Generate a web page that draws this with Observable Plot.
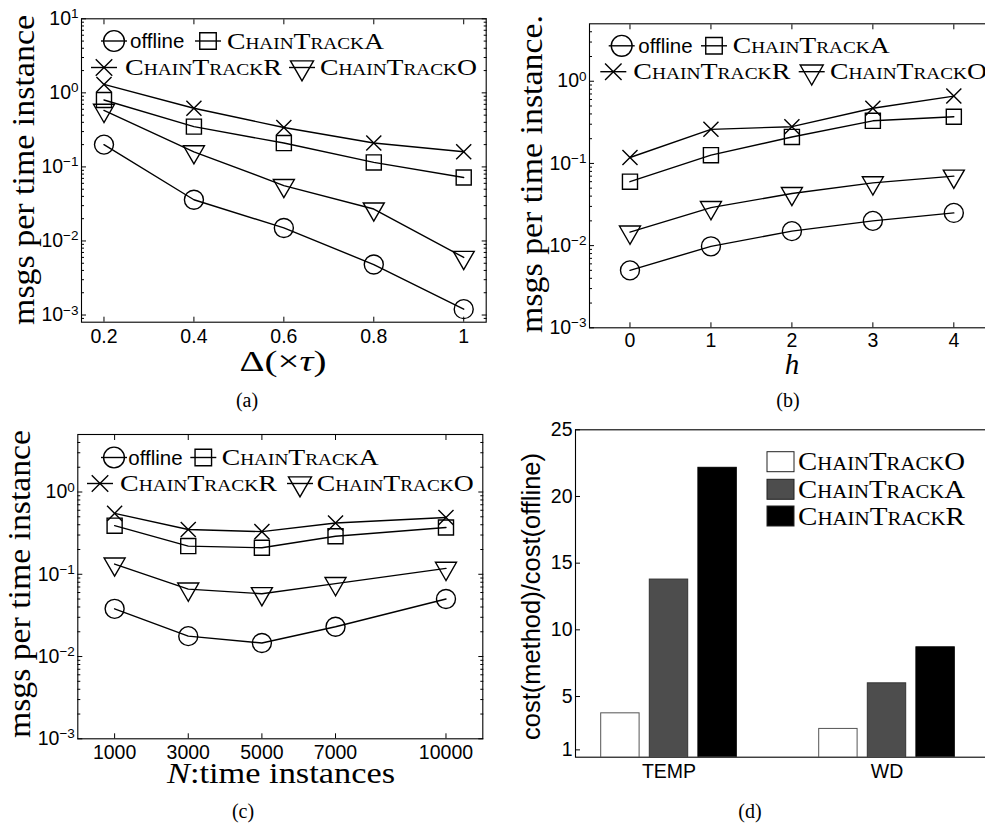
<!DOCTYPE html>
<html><head><meta charset="utf-8">
<script src="https://cdn.jsdelivr.net/npm/d3@7"></script>
<script src="https://cdn.jsdelivr.net/npm/@observablehq/plot@0.6"></script>
<style>
body{margin:0;background:#fff}
#root{position:relative;width:985px;height:828px;overflow:hidden;background:#fff}
.panel{position:absolute}
#root svg{max-width:none !important}
</style></head><body><div id="root"></div>
<script>
// ---------- data ----------
const methods = ["offline", "ChainTrackA", "ChainTrackR", "ChainTrackO"];
// (a) x: Delta (x tau)
const deltaX = [0.2, 0.4, 0.6, 0.8, 1];
const a_offline = [0.2, 0.036, 0.015, 0.0048, 0.0012];
const a_A = [0.8, 0.35, 0.21, 0.115, 0.072];
const a_R = [1.3, 0.62, 0.34, 0.21, 0.16];
const a_O = [0.58, 0.16, 0.056, 0.027, 0.006];
// (b) x: h
const hX = [0, 1, 2, 3, 4];
const b_offline = [0.005, 0.0098, 0.015, 0.02, 0.025];
const b_A = [0.06, 0.126, 0.21, 0.33, 0.37];
const b_R = [0.118, 0.26, 0.28, 0.47, 0.66];
const b_O = [0.0146, 0.029, 0.043, 0.058, 0.07];
// (c) x: N time instances
const nX = [1000, 3000, 5000, 7000, 10000];
const c_offline = [0.038, 0.0177, 0.0146, 0.023, 0.05];
const c_A = [0.39, 0.22, 0.21, 0.29, 0.37];
const c_R = [0.55, 0.35, 0.33, 0.42, 0.49];
const c_O = [0.133, 0.066, 0.058, 0.077, 0.118];
// (d) bars
const datasets = ["TEMP", "WD"];
const barMethods = ["ChainTrackO", "ChainTrackA", "ChainTrackR"];
const d_TEMP = [3.74, 13.77, 22.15];
const d_WD = [2.57, 5.99, 8.69];
// ticks
const logTicks = [1e-3, 1e-2, 1e-1, 1, 10];
const barTicks = [1, 5, 10, 15, 20, 25];

// ---------- styles ----------
const SANS = "'Liberation Sans', Arial, Helvetica, sans-serif";
const SERIF = "'Liberation Serif', 'DejaVu Serif', serif";
const TICK_FS = 19.5;
const markerSpec = {
  offline: {symbol: "circle", r: 9.5, d3s: d3.symbolCircle},
  ChainTrackA: {symbol: "square", r: 8.5, d3s: d3.symbolSquare},
  ChainTrackR: {symbol: "times", r: 6.9, d3s: d3.symbolTimes},
  ChainTrackO: {symbol: "triangle", r: 7.8, rotate: 180, d3s: d3.symbolTriangle}
};
const barStyle = {
  ChainTrackO: {fill: "#ffffff", stroke: "#555", dx: -48.6},
  ChainTrackA: {fill: "#4d4d4d", stroke: "#333", dx: 0},
  ChainTrackR: {fill: "#000000", stroke: "#000", dx: 48.6}
};

const root = document.getElementById("root");
function place(el, left, top) {
  const d = document.createElement("div");
  d.className = "panel";
  d.style.left = left + "px"; d.style.top = top + "px";
  d.appendChild(el); root.appendChild(d);
}
function superscripts(svg) {
  svg.querySelectorAll("text").forEach(t => {
    const s = t.textContent;
    const m = /^10\^(.+)$/.exec(s);
    if (!m) return;
    t.textContent = "10";
    const ts = document.createElementNS("http://www.w3.org/2000/svg", "tspan");
    ts.setAttribute("dy", "-0.5em");
    ts.setAttribute("font-size", "13.5px");
    ts.textContent = m[1].replace("-", "\u2212");
    t.appendChild(ts);
  });
}

function linePanel(cfg) {
  const rows = cfg.series.flatMap(s => cfg.xs.map((x, i) => ({method: s.name, x, y: s.values[i]})));
  const [y0, y1] = cfg.yDomain;
  const majors = logTicks.filter(t => t >= y0 * 0.999 && t <= y1 * 1.001);
  const minors = d3.range(-4, 1).flatMap(e => d3.range(2, 10).map(k => k * Math.pow(10, e))).filter(t => t > y0 && t < y1);
  const blank = {label: null, tickFormat: () => ""};
  const svg = Plot.plot({
    width: cfg.width, height: cfg.height,
    marginTop: cfg.m[0], marginRight: cfg.m[1], marginBottom: cfg.m[2], marginLeft: cfg.m[3],
    style: {fontFamily: SANS, fontSize: TICK_FS + "px", background: "transparent", color: "black", overflow: "visible"},
    x: {domain: cfg.xDomain},
    y: {type: "log", domain: cfg.yDomain},
    marks: [
      Plot.axisX(cfg.xs, {anchor: "bottom", tickSize: 0, tickPadding: cfg.xPad, tickFormat: d => String(d), label: null, fontSize: TICK_FS}),
      Plot.axisX(cfg.xs, {anchor: "bottom", tickSize: -5, ...blank}),
      Plot.axisX(cfg.xs, {anchor: "top", tickSize: -5, ...blank}),
      Plot.axisY(majors, {anchor: "left", tickSize: 0, tickPadding: 3, tickFormat: d => "10^" + Math.round(Math.log10(d)), label: null, fontSize: TICK_FS}),
      Plot.axisY(majors, {anchor: "left", tickSize: -5, ...blank}),
      Plot.axisY(majors, {anchor: "right", tickSize: -5, ...blank}),
      Plot.axisY(minors, {anchor: "left", tickSize: -3, ...blank}),
      Plot.axisY(minors, {anchor: "right", tickSize: -3, ...blank}),
      Plot.frame({stroke: "black", strokeWidth: 1.1}),
      Plot.line(rows, {x: "x", y: "y", z: "method", stroke: "black", strokeWidth: 1.4}),
      ...cfg.series.map(s => {
        const ms = markerSpec[s.name];
        return Plot.dot(rows.filter(r => r.method === s.name), {
          x: "x", y: "y", symbol: ms.symbol, r: ms.r, rotate: ms.rotate || 0,
          stroke: "black", strokeWidth: 1.4, fill: "none"
        });
      })
    ]
  });
  superscripts(svg);
  return svg;
}

// (a)
place(linePanel({
  width: 490, height: 345, m: [18.3, 4.3, 23.3, 81], xPad: 7,
  xs: deltaX, xDomain: [0.15, 1.05], yDomain: [8e-4, 10],
  series: [{name: "offline", values: a_offline}, {name: "ChainTrackA", values: a_A},
           {name: "ChainTrackR", values: a_R}, {name: "ChainTrackO", values: a_O}]
}), 0, 0);
// (b)
place(linePanel({
  width: 510, height: 345, m: [23.3, 6.2, 17.7, 99], xPad: 5,
  xs: hX, xDomain: [-0.5, 4.5], yDomain: [1e-3, 5],
  series: [{name: "offline", values: b_offline}, {name: "ChainTrackA", values: b_A},
           {name: "ChainTrackR", values: b_R}, {name: "ChainTrackO", values: b_O}]
}), 490, 0);
// (c)
place(linePanel({
  width: 490, height: 355, m: [24, 7.7, 26.7, 77.3], xPad: 6,
  xs: nX, xDomain: [0, 11000], yDomain: [1e-3, 5],
  series: [{name: "offline", values: c_offline}, {name: "ChainTrackA", values: c_A},
           {name: "ChainTrackR", values: c_R}, {name: "ChainTrackO", values: c_O}]
}), 0, 410);

// (d)
const barRows = datasets.flatMap((ds, i) => barMethods.map((m, j) => ({dataset: ds, method: m, value: [d_TEMP, d_WD][i][j]})));
const svgD = Plot.plot({
  width: 520, height: 380, marginTop: 19.3, marginRight: 15, marginBottom: 33.3, marginLeft: 85,
  style: {fontFamily: SANS, fontSize: TICK_FS + "px", background: "transparent", color: "black", overflow: "visible"},
  x: {type: "band", domain: datasets, paddingInner: 0.5, paddingOuter: 0.211, align: 0.424},
  y: {domain: [0.45, 25]},
  marks: [
    ...barMethods.map(m => Plot.barY(barRows.filter(r => r.method === m), {
      x: "dataset", y: "value", fill: barStyle[m].fill, stroke: barStyle[m].stroke, strokeWidth: 1,
      insetLeft: 35.3, insetRight: 35.3, dx: barStyle[m].dx, clip: true
    })),
    Plot.axisX(datasets, {anchor: "bottom", tickSize: 0, tickPadding: 7, label: null, fontSize: TICK_FS}),
    Plot.axisY(barTicks, {anchor: "left", tickSize: 0, tickPadding: 3, label: null, fontSize: TICK_FS}),
    Plot.axisY(barTicks, {anchor: "left", tickSize: -5, label: null, tickFormat: () => ""}),
    Plot.frame({stroke: "black", strokeWidth: 1.1})
  ]
});
place(svgD, 490, 410);

// ---------- overlay: labels, legends, captions ----------
const ov = d3.select(root).append("svg").attr("width", 985).attr("height", 828)
  .style("position", "absolute").style("left", "0px").style("top", "0px");
function addText({x, y, parts, font, size, anchor = "middle", rotate = 0, len, smallCaps}) {
  const t = ov.append("text").attr("text-anchor", anchor).attr("font-family", font).attr("font-size", size)
    .attr("fill", "black")
    .attr("transform", `translate(${x},${y})` + (rotate ? ` rotate(${rotate})` : ""));
  if (len) t.attr("textLength", len).attr("lengthAdjust", "spacingAndGlyphs");
  if (smallCaps) t.style("font-variant", "small-caps");
  parts.forEach(p => { const ts = t.append("tspan").text(p[0]); if (p[1]) ts.attr("font-style", "italic"); });
}
// axis titles
addText({x: 33.5, y: 170, parts: [["msgs per time instance"]], font: SERIF, size: 32, rotate: -90, len: 310});
addText({x: 541.7, y: 174, parts: [["msgs per time instance."]], font: SERIF, size: 32, rotate: -90, len: 318});
addText({x: 30, y: 584, parts: [["msgs per time instance"]], font: SERIF, size: 32, rotate: -90, len: 308});
addText({x: 540, y: 596.5, parts: [["cost(method)/cost(offline)"]], font: SANS, size: 25, rotate: -90, len: 287});
addText({x: 283, y: 371, parts: [["\u0394(\u00d7"], ["\u03c4", true], [")"]], font: SERIF, size: 29, len: 87});
addText({x: 792, y: 374, parts: [["h", true]], font: SERIF, size: 29});
addText({x: 281, y: 783, parts: [["N", true], [":time instances"]], font: SERIF, size: 29, len: 228});
// captions
addText({x: 247, y: 407, parts: [["(a)"]], font: SERIF, size: 20});
addText({x: 788, y: 407, parts: [["(b)"]], font: SERIF, size: 20});
addText({x: 243, y: 818, parts: [["(c)"]], font: SERIF, size: 20});
addText({x: 750, y: 818, parts: [["(d)"]], font: SERIF, size: 20});

// line legends
function lineLegend(items) {
  items.forEach(it => {
    const ms = markerSpec[it.m];
    ov.append("line").attr("x1", it.cx - 13).attr("x2", it.cx + 13).attr("y1", it.cy).attr("y2", it.cy)
      .attr("stroke", "black").attr("stroke-width", 1.4);
    ov.append("path").attr("d", d3.symbol(ms.d3s, ms.r * ms.r * Math.PI * 1.2)())
      .attr("transform", `translate(${it.cx},${it.cy})` + (ms.rotate ? ` rotate(${ms.rotate})` : ""))
      .attr("fill", "none").attr("stroke", "black").attr("stroke-width", 1.4);
    if (it.m === "offline") {
      addText({x: it.tx, y: it.cy + 7.3, parts: [[it.m]], font: SANS, size: 20.5, anchor: "start"});
    } else {
      addText({x: it.tx, y: it.cy + 7.5, parts: [[it.m]], font: SERIF, size: 23, anchor: "start", len: 157, smallCaps: true});
    }
  });
}
lineLegend([
  {m: "offline", cx: 114, cy: 41, tx: 130}, {m: "ChainTrackA", cx: 208, cy: 41, tx: 227},
  {m: "ChainTrackR", cx: 104, cy: 67.5, tx: 125}, {m: "ChainTrackO", cx: 302, cy: 67.5, tx: 320}
]);
lineLegend([
  {m: "offline", cx: 621.7, cy: 45.8, tx: 638.3}, {m: "ChainTrackA", cx: 714, cy: 45.8, tx: 732.7},
  {m: "ChainTrackR", cx: 613.3, cy: 71.7, tx: 633.3}, {m: "ChainTrackO", cx: 811.7, cy: 71.7, tx: 830}
]);
lineLegend([
  {m: "offline", cx: 114, cy: 457.5, tx: 128.3}, {m: "ChainTrackA", cx: 203.3, cy: 457.5, tx: 221.7},
  {m: "ChainTrackR", cx: 100, cy: 483.5, tx: 120}, {m: "ChainTrackO", cx: 300, cy: 483.5, tx: 316.7}
]);
// bar legend
[{m: "ChainTrackO", cy: 461.7}, {m: "ChainTrackA", cy: 489.3}, {m: "ChainTrackR", cy: 516}].forEach(it => {
  ov.append("rect").attr("x", 767).attr("y", it.cy - 10).attr("width", 27).attr("height", 20)
    .attr("fill", barStyle[it.m].fill).attr("stroke", "#222").attr("stroke-width", 1);
  addText({x: 798, y: it.cy + 8.5, parts: [[it.m]], font: SERIF, size: 25, anchor: "start", len: 167, smallCaps: true});
});
</script></body></html>
